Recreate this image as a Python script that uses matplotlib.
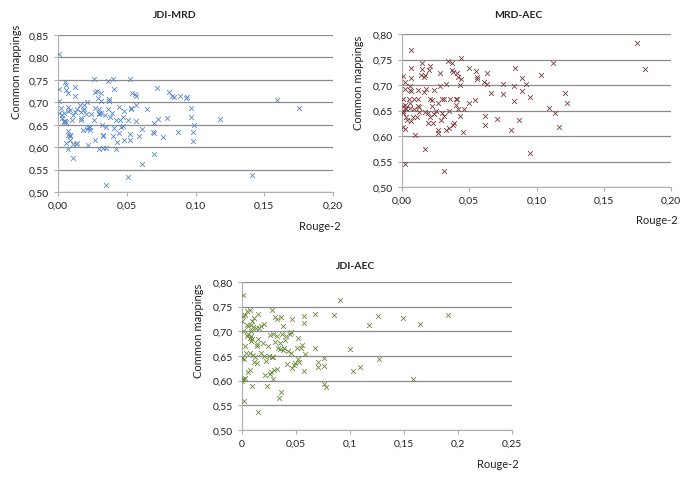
import numpy as np
import matplotlib
matplotlib.use("Agg")
import matplotlib.pyplot as plt
from matplotlib.ticker import FuncFormatter

plt.rcParams['font.family'] = ['Lato', 'DejaVu Sans']

# JDI-MRD (Rouge-2, common mappings)
jdi_mrd_x = [0.001, 0.001, 0.001, 0.002, 0.001, 0.003, 0.004, 0.003, 0.004, 0.004, 0.005, 0.006,
             0.005, 0.006, 0.006, 0.007, 0.007, 0.009, 0.007, 0.006, 0.007, 0.007, 0.009, 0.007,
             0.009, 0.009, 0.010, 0.011, 0.012, 0.012, 0.012, 0.011, 0.011, 0.013, 0.014, 0.014,
             0.016, 0.017, 0.017, 0.017, 0.018, 0.019, 0.018, 0.019, 0.020, 0.021, 0.021, 0.022,
             0.022, 0.023, 0.023, 0.024, 0.026, 0.026, 0.027, 0.027, 0.027, 0.028, 0.029, 0.030,
             0.030, 0.030, 0.030, 0.031, 0.031, 0.031, 0.032, 0.033, 0.033, 0.033, 0.034, 0.035,
             0.035, 0.035, 0.036, 0.036, 0.037, 0.037, 0.038, 0.039, 0.040, 0.040, 0.041, 0.041,
             0.042, 0.042, 0.043, 0.044, 0.044, 0.045, 0.046, 0.047, 0.047, 0.048, 0.048, 0.051,
             0.051, 0.052, 0.052, 0.052, 0.053, 0.053, 0.054, 0.056, 0.057, 0.057, 0.057, 0.059,
             0.061, 0.061, 0.065, 0.069, 0.070, 0.070, 0.070, 0.072, 0.073, 0.076, 0.079, 0.081,
             0.083, 0.084, 0.087, 0.089, 0.093, 0.094, 0.097, 0.097, 0.098, 0.098, 0.099, 0.118,
             0.141, 0.159, 0.175]
jdi_mrd_y = [0.808, 0.730, 0.703, 0.688, 0.677, 0.672, 0.677, 0.664, 0.658, 0.655, 0.658, 0.656,
             0.745, 0.738, 0.727, 0.720, 0.690, 0.683, 0.680, 0.610, 0.595, 0.635, 0.628, 0.627,
             0.625, 0.615, 0.660, 0.671, 0.678, 0.734, 0.714, 0.576, 0.608, 0.608, 0.609, 0.684,
             0.695, 0.678, 0.665, 0.661, 0.638, 0.695, 0.682, 0.684, 0.674, 0.640, 0.700, 0.646,
             0.604, 0.639, 0.646, 0.673, 0.752, 0.660, 0.688, 0.724, 0.617, 0.726, 0.709, 0.686,
             0.673, 0.595, 0.677, 0.702, 0.720, 0.677, 0.650, 0.597, 0.628, 0.625, 0.671, 0.599,
             0.516, 0.646, 0.686, 0.747, 0.708, 0.703, 0.668, 0.677, 0.752, 0.625, 0.730, 0.643,
             0.595, 0.660, 0.612, 0.632, 0.690, 0.660, 0.646, 0.668, 0.647, 0.681, 0.616, 0.660,
             0.533, 0.617, 0.753, 0.630, 0.684, 0.688, 0.720, 0.718, 0.658, 0.693, 0.714, 0.625,
             0.563, 0.640, 0.684, 0.634, 0.654, 0.632, 0.584, 0.732, 0.662, 0.623, 0.665, 0.722,
             0.714, 0.712, 0.634, 0.715, 0.709, 0.712, 0.688, 0.667, 0.634, 0.614, 0.649, 0.663,
             0.537, 0.704, 0.687]

# MRD-AEC
mrd_aec_x = [0.001, 0.002, 0.001, 0.001, 0.001, 0.001, 0.002, 0.002, 0.003, 0.001, 0.002, 0.002,
             0.002, 0.003, 0.004, 0.005, 0.006, 0.006, 0.006, 0.006, 0.007, 0.007, 0.007, 0.007,
             0.007, 0.008, 0.009, 0.009, 0.010, 0.011, 0.012, 0.012, 0.012, 0.013, 0.013, 0.014,
             0.015, 0.015, 0.016, 0.016, 0.017, 0.017, 0.017, 0.018, 0.019, 0.019, 0.020, 0.021,
             0.021, 0.021, 0.022, 0.022, 0.023, 0.024, 0.024, 0.025, 0.027, 0.027, 0.027, 0.028,
             0.028, 0.029, 0.030, 0.030, 0.031, 0.031, 0.031, 0.033, 0.033, 0.034, 0.035, 0.035,
             0.036, 0.037, 0.037, 0.038, 0.038, 0.039, 0.040, 0.040, 0.041, 0.041, 0.042, 0.042,
             0.043, 0.043, 0.044, 0.044, 0.045, 0.046, 0.050, 0.050, 0.054, 0.055, 0.056, 0.056,
             0.061, 0.062, 0.062, 0.063, 0.063, 0.066, 0.071, 0.075, 0.075, 0.081, 0.083, 0.084,
             0.083, 0.087, 0.089, 0.089, 0.092, 0.095, 0.095, 0.103, 0.109, 0.112, 0.114, 0.117,
             0.121, 0.123, 0.175, 0.181]
mrd_aec_y = [0.717, 0.706, 0.673, 0.659, 0.649, 0.645, 0.654, 0.661, 0.653, 0.618, 0.613, 0.546,
             0.693, 0.637, 0.632, 0.672, 0.665, 0.655, 0.699, 0.690, 0.688, 0.630, 0.769, 0.733,
             0.713, 0.638, 0.672, 0.652, 0.601, 0.638, 0.659, 0.673, 0.691, 0.647, 0.656, 0.719,
             0.743, 0.732, 0.715, 0.687, 0.575, 0.647, 0.719, 0.692, 0.625, 0.646, 0.730, 0.673,
             0.738, 0.638, 0.659, 0.671, 0.625, 0.643, 0.691, 0.649, 0.606, 0.664, 0.612, 0.699,
             0.723, 0.632, 0.645, 0.672, 0.639, 0.673, 0.532, 0.612, 0.702, 0.747, 0.649, 0.616,
             0.672, 0.730, 0.743, 0.726, 0.622, 0.626, 0.673, 0.660, 0.723, 0.672, 0.716, 0.652,
             0.700, 0.639, 0.752, 0.712, 0.607, 0.653, 0.665, 0.733, 0.670, 0.728, 0.715, 0.711,
             0.705, 0.640, 0.622, 0.701, 0.723, 0.685, 0.634, 0.701, 0.683, 0.612, 0.698, 0.733,
             0.669, 0.631, 0.714, 0.688, 0.701, 0.677, 0.566, 0.719, 0.654, 0.744, 0.646, 0.618,
             0.684, 0.665, 0.782, 0.731]

# JDI-AEC
jdi_aec_x = [0.001, 0.001, 0.000, 0.001, 0.000, 0.002, 0.000, 0.001, 0.002, 0.003, 0.002, 0.003,
             0.003, 0.004, 0.005, 0.005, 0.005, 0.006, 0.006, 0.007, 0.007, 0.008, 0.006, 0.007,
             0.007, 0.008, 0.008, 0.008, 0.009, 0.009, 0.009, 0.010, 0.010, 0.011, 0.011, 0.012,
             0.013, 0.014, 0.014, 0.014, 0.015, 0.015, 0.015, 0.016, 0.018, 0.018, 0.019, 0.020,
             0.020, 0.021, 0.022, 0.023, 0.024, 0.025, 0.026, 0.026, 0.027, 0.028, 0.028, 0.029,
             0.029, 0.029, 0.030, 0.031, 0.031, 0.032, 0.032, 0.032, 0.033, 0.034, 0.035, 0.035,
             0.036, 0.036, 0.037, 0.038, 0.038, 0.039, 0.040, 0.041, 0.042, 0.043, 0.044, 0.045,
             0.045, 0.046, 0.046, 0.048, 0.049, 0.051, 0.052, 0.052, 0.053, 0.055, 0.056, 0.057,
             0.057, 0.057, 0.058, 0.068, 0.068, 0.070, 0.070, 0.076, 0.076, 0.076, 0.078, 0.085,
             0.091, 0.100, 0.103, 0.109, 0.118, 0.126, 0.127, 0.149, 0.158, 0.165, 0.191]
jdi_aec_y = [0.773, 0.731, 0.721, 0.701, 0.645, 0.643, 0.600, 0.604, 0.604, 0.605, 0.559, 0.734,
             0.670, 0.656, 0.712, 0.691, 0.741, 0.710, 0.694, 0.686, 0.744, 0.681, 0.617, 0.622,
             0.656, 0.712, 0.700, 0.690, 0.684, 0.721, 0.589, 0.652, 0.709, 0.727, 0.637, 0.647,
             0.707, 0.674, 0.670, 0.636, 0.736, 0.684, 0.536, 0.707, 0.656, 0.711, 0.676, 0.649,
             0.714, 0.611, 0.640, 0.589, 0.670, 0.651, 0.613, 0.692, 0.617, 0.648, 0.743, 0.604,
             0.648, 0.694, 0.622, 0.678, 0.730, 0.726, 0.624, 0.690, 0.666, 0.564, 0.677, 0.665,
             0.730, 0.577, 0.694, 0.663, 0.711, 0.666, 0.683, 0.690, 0.633, 0.661, 0.694, 0.657,
             0.698, 0.724, 0.625, 0.631, 0.635, 0.667, 0.686, 0.643, 0.637, 0.667, 0.672, 0.716,
             0.731, 0.620, 0.654, 0.735, 0.667, 0.637, 0.627, 0.646, 0.630, 0.594, 0.587, 0.733,
             0.764, 0.664, 0.620, 0.628, 0.713, 0.731, 0.643, 0.728, 0.603, 0.714, 0.733]


def comma(decimals):
    def f(v, pos):
        if decimals is None:
            s = ('%.2f' % v).rstrip('0').rstrip('.')
        else:
            s = '%.*f' % (decimals, v)
        return s.replace('.', ',')
    return FuncFormatter(f)


def setScatter(fig, rect, x, y, color, title, title_pos, ylab_pos, xlab_pos,
               ylim, xmax, xfmt):
    ax = fig.add_axes(rect)
    ax.scatter(x, y, marker='x', s=12, linewidths=0.6, color=color, zorder=3)
    ax.set_xlim(0, xmax)
    ax.set_ylim(*ylim)
    ax.set_xticks(np.arange(0, xmax + 0.001, 0.05))
    ax.set_yticks(np.arange(ylim[0], ylim[1] + 0.001, 0.05))
    ax.xaxis.set_major_formatter(comma(xfmt))
    ax.yaxis.set_major_formatter(comma(2))
    ax.grid(axis='y', color='#8c8c8c', linewidth=0.9)
    ax.set_axisbelow(True)
    for s in ['top', 'right']:
        ax.spines[s].set_visible(False)
    for s in ['left', 'bottom']:
        ax.spines[s].set_color('#b0b0b0')
    ax.tick_params(colors='#b0b0b0', labelcolor='#222222', labelsize=7.5, length=3,
                   direction='out')
    fig.text(title_pos[0], title_pos[1], title, ha='center', va='center',
             fontsize=7.5, fontweight='bold', color='#222222')
    fig.text(ylab_pos[0], ylab_pos[1], 'Common mappings', ha='center', va='center',
             rotation=90, fontsize=8, color='#222222')
    fig.text(xlab_pos[0], xlab_pos[1], 'Rouge-2', ha='center', va='center',
             fontsize=8, color='#222222')
    return ax


W, H = 685, 481
fig = plt.figure(figsize=(W / 100, H / 100), dpi=100)

setScatter(fig, [58 / W, 1 - 193 / H, 275 / W, 157 / H], jdi_mrd_x, jdi_mrd_y, '#5a88c4',
           'JDI-MRD', (175 / W, 1 - 15 / H), (17 / W, 1 - 72 / H), (320 / W, 1 - 226 / H),
           (0.50, 0.85), 0.20, 2)
setScatter(fig, [402 / W, 1 - 188 / H, 269 / W, 153 / H], mrd_aec_x, mrd_aec_y, '#7a3c3c',
           'MRD-AEC', (518 / W, 1 - 16 / H), (358 / W, 1 - 83 / H), (657 / W, 1 - 220 / H),
           (0.50, 0.80), 0.20, 2)
setScatter(fig, [242 / W, 1 - 431 / H, 270 / W, 148 / H], jdi_aec_x, jdi_aec_y, '#6a8a3a',
           'JDI-AEC', (356 / W, 1 - 267 / H), (198 / W, 1 - 331 / H), (498 / W, 1 - 465 / H),
           (0.50, 0.80), 0.25, None)

fig.savefig('out.png', dpi=100)
